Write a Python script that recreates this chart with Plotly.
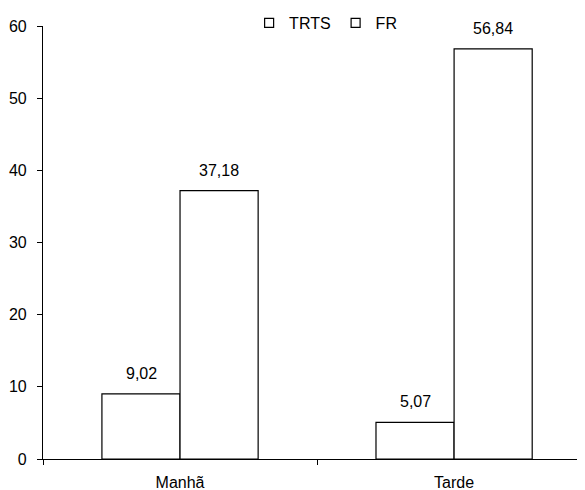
import plotly.graph_objects as go

categories = ["Manhã", "Tarde"]
series_names = ["TRTS", "FR"]
trts_values = [9.02, 5.07]
fr_values = [37.18, 56.84]
y_ticks = [0, 10, 20, 30, 40, 50, 60]

FONT = "Liberation Sans, Arial, Helvetica, sans-serif"
# page body has an 8px margin; figure sized so it fills the 585x490 window
W, H = 577, 482
L, R, B = 35, 1, 31
T_PLOT = 18   # plot top in figure px

fig = go.Figure()
for name, vals in zip(series_names, [trts_values, fr_values]):
    fig.add_trace(go.Bar(
        x=categories, y=vals, name=name, showlegend=False,
        marker=dict(color="white", line=dict(color="black", width=1.2)),
    ))
# legend entries
for name in series_names:
    fig.add_trace(go.Scatter(
        x=[None], y=[None], mode="markers", name=name,
        marker=dict(symbol="square", size=9, color="white",
                    line=dict(color="black", width=1.2)),
    ))

annotations = []
for shift, vals in zip([-39, 39], [trts_values, fr_values]):
    for c, v in zip(categories, vals):
        annotations.append(dict(
            x=c, y=v, xref="x", yref="y", text=f"{v:.2f}".replace(".", ","),
            showarrow=False, xshift=shift, yanchor="bottom", yshift=10,
            font=dict(family=FONT, size=16, color="black"),
        ))

paper_h = H - B
fig.update_layout(
    width=W, height=H,
    margin=dict(l=L, r=R, t=0, b=B, autoexpand=False),
    paper_bgcolor="white", plot_bgcolor="white",
    font=dict(family=FONT, size=16, color="black"),
    barmode="group", bargap=0.43, bargroupgap=0,
    annotations=annotations,
    legend=dict(orientation="h", x=0.381, y=(paper_h - 15) / paper_h,
                xanchor="left", yanchor="middle",
                font=dict(size=16), itemwidth=30, bgcolor="rgba(0,0,0,0)"),
    xaxis=dict(range=[-0.5, 1.474], showline=True, linecolor="black", linewidth=1.2,
               ticks="outside", tickson="boundaries", ticklen=5, tickcolor="black",
               showgrid=False, ticklabelstandoff=9, automargin=False),
    yaxis=dict(range=[0, 60], tickvals=y_ticks, showline=True, linecolor="black",
               linewidth=1.2, ticks="outside", ticklen=5, tickcolor="black",
               showgrid=False, zeroline=False, automargin=False,
               domain=[0, (paper_h - T_PLOT) / paper_h], ticklabelstandoff=7),
)

fig.write_html("out.html")
